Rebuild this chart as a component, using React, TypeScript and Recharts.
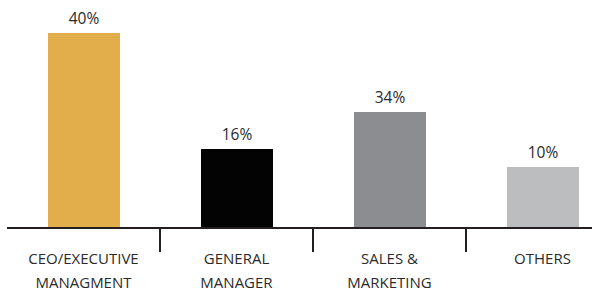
import { BarChart, Bar, XAxis, YAxis, Cell, LabelList } from 'recharts';

// job function split; labels are the printed shares, levels are the drawn bar heights
const roles = ['CEO/EXECUTIVE|MANAGMENT', 'GENERAL|MANAGER', 'SALES &|MARKETING', 'OTHERS'];
const shares = [40, 16, 34, 10];
const levels = [40, 16.2, 23.8, 12.5];
const colors = ['#E1AE4B', '#030303', '#8C8D90', '#BCBDBF'];

const WIDTH = 620;
const LEFT = 7;
const RIGHT = 1;
const band = (WIDTH - LEFT - RIGHT) / roles.length;

const data = roles.map((r, i) => ({ name: r, share: shares[i], level: levels[i] }));

const font = '"Open Sans", "Liberation Sans", Arial, sans-serif';

function RoleTick(props: any) {
  const { x, y, payload, index } = props;
  const lines = String(payload.value).split('|');
  return (
    <g>
      {index > 0 && (
        <line x1={x - band / 2} x2={x - band / 2} y1={y - 1} y2={y + 24} stroke="#231F20" strokeWidth={2} />
      )}
      {lines.map((t, i) => (
        <text
          key={i}
          x={x}
          y={y + 36 + i * 24}
          textAnchor="middle"
          fontSize={15}
          fontFamily={font}
          fill="#2A2A2A"
        >
          {t}
        </text>
      ))}
    </g>
  );
}

export default function App() {
  return (
    <div style={{ position: 'fixed', left: 0, top: 0, width: 592, height: 292, overflow: 'hidden', background: '#fff' }}>
      <BarChart width={WIDTH} height={292} data={data} margin={{ top: 33, right: RIGHT, left: LEFT, bottom: 0 }}>
        <XAxis
          dataKey="name"
          height={64}
          interval={0}
          tickLine={false}
          tickSize={0}
          tickMargin={0}
          axisLine={{ stroke: '#231F20', strokeWidth: 2 }}
          tick={<RoleTick />}
        />
        <YAxis hide domain={[0, 40]} />
        <Bar dataKey="level" barSize={72} isAnimationActive={false}>
          {data.map((d, i) => (
            <Cell key={d.name} fill={colors[i]} />
          ))}
          <LabelList
            dataKey="share"
            position="top"
            offset={9}
            formatter={(v: any) => `${v}%`}
            style={{ fontSize: 15.5, fontFamily: font, fill: '#2A2A2A' }}
          />
        </Bar>
      </BarChart>
    </div>
  );
}
